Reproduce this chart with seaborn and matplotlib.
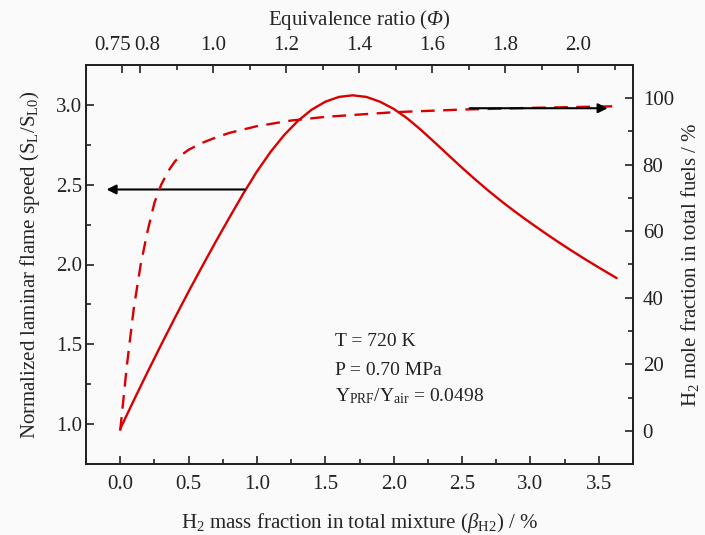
import numpy as np
import pandas as pd
import matplotlib
matplotlib.use("Agg")
import matplotlib.pyplot as plt
import matplotlib.transforms as mtransforms
import seaborn as sns

# ---- data ----
beta_speed = [0.0, 0.1, 0.2, 0.3, 0.4, 0.5, 0.6, 0.7, 0.8, 0.9, 1.0, 1.1, 1.2,
              1.3, 1.4, 1.5, 1.6, 1.7, 1.8, 1.9, 2.0, 2.1, 2.2, 2.3, 2.4, 2.5,
              2.6, 2.7, 2.8, 2.9, 3.0, 3.1, 3.2, 3.3, 3.4, 3.5, 3.63]
speed_ratio = [0.97, 1.150, 1.326, 1.498, 1.666, 1.830, 1.989, 2.145, 2.296,
               2.444, 2.583, 2.706, 2.812, 2.900, 2.970, 3.020, 3.050, 3.060,
               3.050, 3.020, 2.975, 2.915, 2.843, 2.765, 2.685, 2.606, 2.530,
               2.457, 2.388, 2.323, 2.261, 2.201, 2.143, 2.087, 2.033, 1.981,
               1.915]

beta_mole = [0.0, 0.05, 0.1, 0.15, 0.2, 0.25, 0.3, 0.35, 0.4, 0.45, 0.5, 0.6,
             0.7, 0.8, 1.0, 1.25, 1.5, 2.0, 2.5, 3.0, 3.63]
h2_mole = [0.0, 20.0, 37.0, 50.0, 60.0, 68.5, 74.0, 78.0, 81.0, 83.0, 84.5,
           86.6, 88.2, 89.6, 91.6, 93.3, 94.4, 95.8, 96.6, 97.1, 97.6]

x_ticks = [0.0, 0.5, 1.0, 1.5, 2.0, 2.5, 3.0, 3.5]
y_left_ticks = [1.0, 1.5, 2.0, 2.5, 3.0]
y_right_ticks = [0, 20, 40, 60, 80, 100]
phi_ticks = [0.75, 0.8, 1.0, 1.2, 1.4, 1.6, 1.8, 2.0]
phi_tick_labels = ["0.75", "0.8", "1.0", "1.2", "1.4", "1.6", "1.8", "2.0"]
phi_minor = [0.9, 1.1, 1.3, 1.5, 1.7, 1.9, 2.1]

conditions = ["T = 720 K", "P = 0.70 MPa",
              r"Y$_\mathregular{PRF}$/Y$_\mathregular{air}$ = 0.0498"]

df_speed = pd.DataFrame({"beta": beta_speed, "ratio": speed_ratio})
df_mole = pd.DataFrame({"beta": beta_mole, "mole": h2_mole})

# ---- style ----
sns.set_theme(style="ticks")
plt.rcParams["font.family"] = ["Liberation Serif", "DejaVu Serif"]
plt.rcParams["mathtext.fontset"] = "custom"
plt.rcParams["mathtext.rm"] = "Liberation Serif"
plt.rcParams["mathtext.it"] = "Liberation Serif:italic"
plt.rcParams["mathtext.bf"] = "Liberation Serif:bold"
plt.rcParams["mathtext.cal"] = "Liberation Serif:italic"
plt.rcParams["axes.linewidth"] = 1.3

RED = "#d90000"
INK = "#222222"
FS = 15

fig = plt.figure(figsize=(7.05, 5.35), dpi=100, facecolor="#fafafa")
ax = fig.add_axes([86 / 705, 1 - 464 / 535, (633 - 86) / 705, (464 - 65) / 535])
ax.set_facecolor("#fafafa")

sns.lineplot(data=df_speed, x="beta", y="ratio", ax=ax, color=RED, lw=1.7,
             legend=False)
ax.set_xlim(-0.25, 3.75)
ax.set_ylim(0.75, 3.25)
ax.set_xticks(x_ticks)
ax.set_xticklabels([f"{v:.1f}" for v in x_ticks])
ax.set_xticks(np.arange(-0.25, 3.76, 0.25), minor=True)
ax.set_yticks(y_left_ticks)
ax.set_yticklabels([f"{v:.1f}" for v in y_left_ticks])
ax.set_yticks(np.arange(0.75, 3.26, 0.25), minor=True)
ax.tick_params(which="both", direction="in", top=False, right=False,
               labelsize=FS, width=1.2, colors=INK, labelcolor=INK)
ax.tick_params(which="major", length=6)
ax.tick_params(axis="x", which="major", pad=8)
ax.tick_params(axis="y", which="major", pad=3)
ax.tick_params(which="minor", length=3.5)
ax.set_xlabel(r"H$_\mathregular{2}$ mass fraction in total mixture ($\it{\beta}$$_\mathregular{H2}$) / %",
              fontsize=FS, labelpad=12)
ax.set_ylabel(r"Normalized laminar flame speed (S$_\mathregular{L}$/S$_\mathregular{L0}$)",
              fontsize=FS, labelpad=10)

ax2 = ax.twinx()
sns.lineplot(data=df_mole, x="beta", y="mole", ax=ax2, color=RED, lw=1.7,
             legend=False)
ax2.lines[0].set_dashes([5.8, 3.6])
ax2.set_ylim(-10, 110)
ax2.set_yticks(y_right_ticks)
ax2.set_yticks(np.arange(-10, 111, 10), minor=True)
ax2.tick_params(which="both", direction="in", labelsize=FS, width=1.2,
                colors=INK, labelcolor=INK)
ax2.tick_params(which="major", length=6, pad=7)
ax2.tick_params(which="minor", length=3.5)
ax2.set_ylabel(r"H$_\mathregular{2}$ mole fraction in total fuels / %",
               fontsize=FS, labelpad=4)
ax2.set_xlabel("")

# top axis: equivalence ratio
a_phi, b_phi = 0.745, 0.3745
sec = ax.secondary_xaxis("top", functions=(lambda b: a_phi + b_phi * b,
                                           lambda p: (p - a_phi) / b_phi))
sec.set_xticks(phi_ticks)
sec.set_xticklabels(phi_tick_labels)
sec.set_xticks(phi_minor, minor=True)
sec.tick_params(which="both", direction="in", labelsize=FS, width=1.2,
                colors=INK, labelcolor=INK)
sec.tick_params(which="major", length=6, pad=7)
sec.tick_params(which="minor", length=3.5)
sec.set_xlabel(r"Equivalence ratio ($\mathcal{Φ}$)", fontsize=FS, labelpad=8)

for a in (ax, ax2):
    for s in a.spines.values():
        s.set_linewidth(1.3)
        s.set_color(INK)

# arrows
ax.annotate("", xy=(-0.10, 2.47), xytext=(0.91, 2.47),
            arrowprops=dict(arrowstyle="-|>", color="black", lw=1.5,
                            mutation_scale=14, shrinkA=0, shrinkB=0))
ax2.annotate("", xy=(3.565, 97.0), xytext=(2.555, 97.0),
             arrowprops=dict(arrowstyle="-|>", color="black", lw=1.5,
                             mutation_scale=14, shrinkA=0, shrinkB=0))

# condition text
for txt, yy in zip(conditions, [0.2945, 0.2243, 0.1566]):
    ax.text(0.455, yy, txt, transform=ax.transAxes, fontsize=14,
            va="baseline", ha="left", color=INK)

# nudge the two crowded top labels apart, as in the reference
fig.canvas.draw()
labs = sec.xaxis.get_majorticklabels()
for lab, dx in ((labs[0], -7.0), (labs[1], 4.8)):
    lab.set_transform(lab.get_transform() +
                      mtransforms.ScaledTranslation(dx / 72, 0, fig.dpi_scale_trans))

fig.savefig("out.png", dpi=100, facecolor=fig.get_facecolor())
